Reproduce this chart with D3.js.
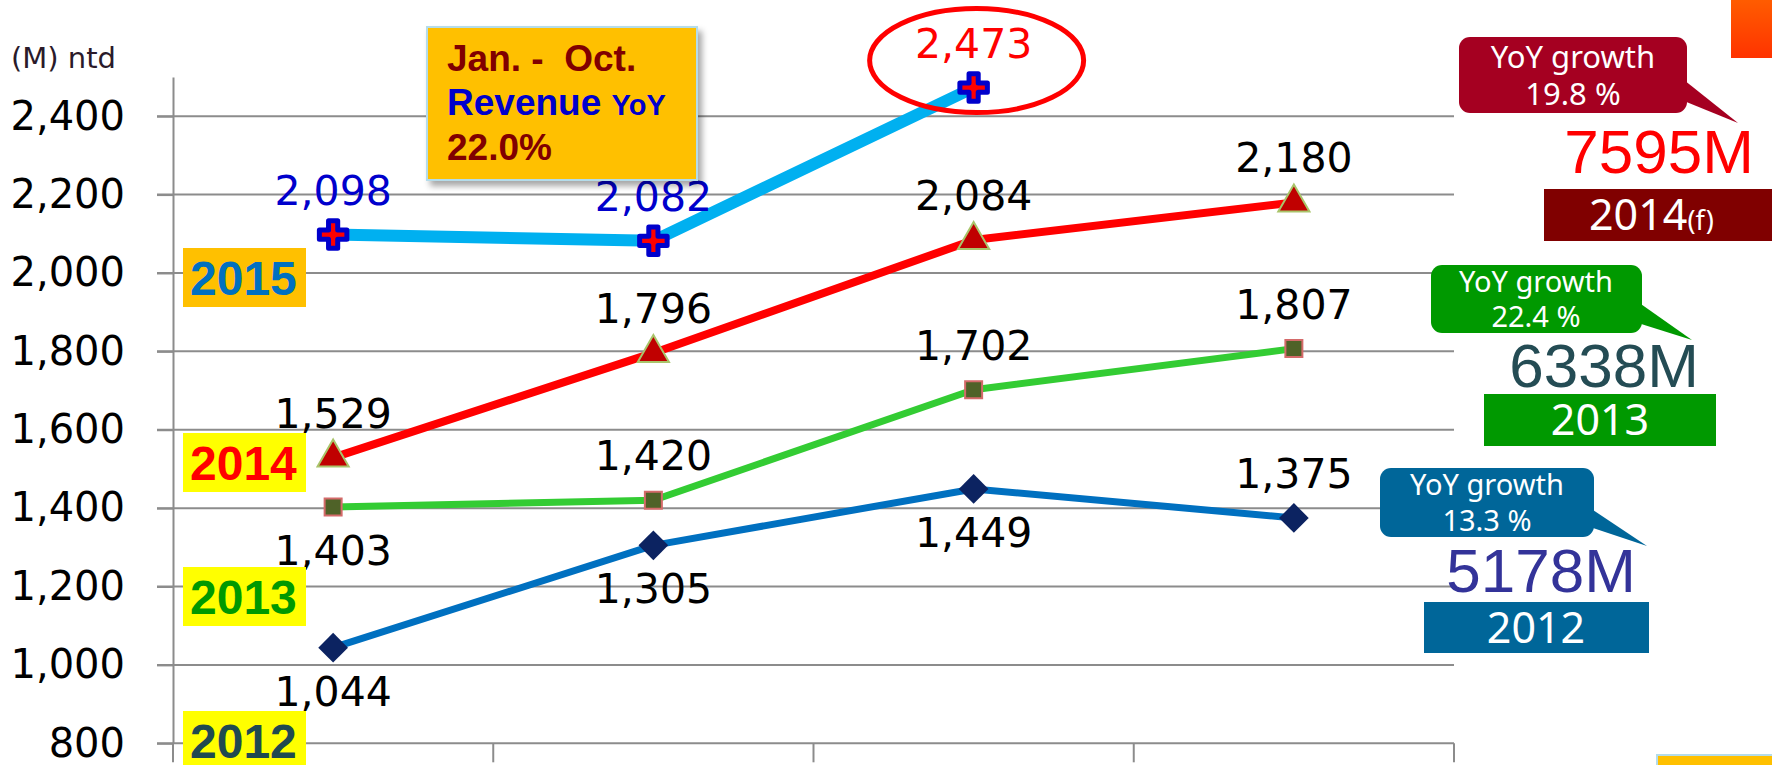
<!DOCTYPE html>
<html>
<head>
<meta charset="utf-8">
<script src="https://cdn.jsdelivr.net/npm/d3@7"></script>
<style>
  body { margin: 0; background: #fff; }
  svg { display: block; }
</style>
</head>
<body>
<script>
const width = 1772;
const height = 765;

// quarters (axis labels are cut off in the original picture)
const categories = ["Q1", "Q2", "Q3", "Q4"];
const rev2012 = [1044, 1305, 1449, 1375];
const rev2013 = [1403, 1420, 1702, 1807];
const rev2014 = [1529, 1796, 2084, 2180];
const rev2015 = [2098, 2082, 2473];
const pos2012 = ["below", "below", "below", "above"];
const pos2013 = ["below", "above", "above", "above"];
const pos2014 = ["above", "above", "above", "above"];
const pos2015 = ["above", "above", "above"];
const yTicks = [800, 1000, 1200, 1400, 1600, 1800, 2000, 2200, 2400];

const totalYears = ["2014", "2013", "2012"];
const totals = [7595, 6338, 5178];
const yoyGrowth = [19.8, 22.4, 13.3];
const janOctYoY = 22.0;

const svg = d3.select('body').append('svg')
    .attr("width", width)
    .attr("height", height);

const defs = svg.append("defs");
defs.append("filter").attr("id", "shadow")
    .attr("x", "-10%").attr("y", "-10%").attr("width", "130%").attr("height", "130%")
    .append("feDropShadow")
    .attr("dx", 4).attr("dy", 5).attr("stdDeviation", 3)
    .attr("flood-color", "#000").attr("flood-opacity", 0.35);
const grad = defs.append("linearGradient").attr("id", "orangeGrad")
    .attr("x1", 0).attr("y1", 0).attr("x2", 0).attr("y2", 1);
grad.append("stop").attr("offset", "0%").attr("stop-color", "#ff5c00");
grad.append("stop").attr("offset", "100%").attr("stop-color", "#ff3300");

const x = d3.scaleBand()
    .domain(categories)
    .range([173, 1454]);

const y = d3.scaleLinear()
    .domain([800, 2500])
    .range([743.3, 77]);

const cx = (d, i) => x(categories[i]) + x.bandwidth() / 2;

// gridlines
svg.append("g")
    .selectAll("line")
    .data(yTicks)
    .enter()
    .append("line")
    .attr("x1", 157)
    .attr("x2", 1454)
    .attr("y1", d => y(d))
    .attr("y2", d => y(d))
    .style("stroke", "#8c8c8c")
    .style("stroke-width", 2);

// x axis category boundary ticks
const bounds = categories.map(c => x(c)).concat([x.range()[1]]);
svg.append("g")
    .selectAll("line")
    .data(bounds)
    .enter()
    .append("line")
    .attr("x1", d => d)
    .attr("x2", d => d)
    .attr("y1", y(800))
    .attr("y2", y(800) + 19)
    .style("stroke", "#8c8c8c")
    .style("stroke-width", 2);

const yAxis = svg.append("g")
    .attr("transform", "translate(173,0)")
    .call(d3.axisLeft(y)
        .tickValues(yTicks)
        .tickSize(16)
        .tickSizeOuter(0)
        .tickPadding(32)
        .tickFormat(d3.format(",")));
yAxis.select(".domain").style("stroke", "#8c8c8c").style("stroke-width", 2);
yAxis.selectAll(".tick line").style("stroke", "#8c8c8c").style("stroke-width", 2);
yAxis.selectAll(".tick text")
    .style("font-family", "DejaVu Sans")
    .style("font-size", "40px")
    .style("fill", "#000");

svg.append("text")
    .attr("x", 11)
    .attr("y", 68)
    .style("font-family", "DejaVu Sans")
    .style("font-size", "29px")
    .style("fill", "#2a1a2a")
    .text("(M) ntd");

// series
const line = d3.line().x(cx).y(d => y(d));

const series = [
    {values: rev2012, pos: pos2012, color: "#0070c0", width: 7, labelColor: ["#000"]},
    {values: rev2013, pos: pos2013, color: "#33cc33", width: 7, labelColor: ["#000"]},
    {values: rev2014, pos: pos2014, color: "#ff0000", width: 8, labelColor: ["#000"]},
    {values: rev2015, pos: pos2015, color: "#00b0f0", width: 12, labelColor: ["#0000cc", "#0000cc", "#ff0000"]}
];

series.forEach(s => {
    svg.append("path")
        .attr("d", line(s.values))
        .style("fill", "none")
        .style("stroke", s.color)
        .style("stroke-width", s.width)
        .style("stroke-linejoin", "round");
});

// markers
const g2012 = svg.append("g");
g2012.selectAll("path")
    .data(rev2012)
    .enter()
    .append("path")
    .attr("d", d3.symbol().type(d3.symbolSquare).size(441))
    .attr("transform", (d, i) => `translate(${cx(d, i)},${y(d)}) rotate(45)`)
    .style("fill", "#0c2361");

const g2013 = svg.append("g");
g2013.selectAll("path")
    .data(rev2013)
    .enter()
    .append("path")
    .attr("d", d3.symbol().type(d3.symbolSquare).size(289))
    .attr("transform", (d, i) => `translate(${cx(d, i)},${y(d)})`)
    .style("fill", "#4f6228")
    .style("stroke", "#d46a6a")
    .style("stroke-width", 2);

const g2014 = svg.append("g");
g2014.selectAll("path")
    .data(rev2014)
    .enter()
    .append("path")
    .attr("d", d3.symbol().type(d3.symbolTriangle).size(420))
    .attr("transform", (d, i) => `translate(${cx(d, i)},${y(d)})`)
    .style("fill", "#c00000")
    .style("stroke", "#a9c46a")
    .style("stroke-width", 2);

const g2015 = svg.append("g");
g2015.selectAll("path")
    .data(rev2015)
    .enter()
    .append("path")
    .attr("d", d3.symbol().type(d3.symbolCross).size(420))
    .attr("transform", (d, i) => `translate(${cx(d, i)},${y(d)})`)
    .style("fill", "#ff0000")
    .style("stroke", "#0000cc")
    .style("stroke-width", 5)
    .style("stroke-linejoin", "round");

// data labels
series.forEach(s => {
    svg.append("g")
        .selectAll("text")
        .data(s.values)
        .enter()
        .append("text")
        .attr("x", cx)
        .attr("y", (d, i) => s.pos[i] === "above" ? y(d) - 30 : y(d) + 58)
        .attr("text-anchor", "middle")
        .style("font-family", "DejaVu Sans")
        .style("font-size", "41px")
        .style("fill", (d, i) => s.labelColor[i] || s.labelColor[0])
        .text(d => d3.format(",")(d));
});

// red ellipse round the last 2015 point
const last = rev2015.length - 1;
svg.append("ellipse")
    .attr("cx", cx(rev2015[last], last) + 3)
    .attr("cy", y(rev2015[last]) - 27)
    .attr("rx", 107)
    .attr("ry", 52)
    .style("fill", "none")
    .style("stroke", "#ff0000")
    .style("stroke-width", 5);

// Jan. - Oct. box
const box = svg.append("g");
box.append("rect")
    .attr("x", 427).attr("y", 27)
    .attr("width", 270).attr("height", 153)
    .style("fill", "#ffc000")
    .style("stroke", "#b4dcea")
    .style("stroke-width", 2)
    .attr("filter", "url(#shadow)");
box.append("text")
    .attr("x", 447).attr("y", 71)
    .attr("xml:space", "preserve")
    .style("font-family", "Liberation Sans")
    .style("font-weight", "bold")
    .style("font-size", "37px")
    .style("fill", "#800000")
    .text("Jan. -  Oct.");
const rev = box.append("text")
    .attr("x", 447).attr("y", 115)
    .style("font-family", "Liberation Sans")
    .style("font-weight", "bold")
    .style("fill", "#0000cc");
rev.append("tspan").style("font-size", "37px").text("Revenue ");
rev.append("tspan").style("font-size", "29px").text("YoY");
box.append("text")
    .attr("x", 447).attr("y", 160)
    .style("font-family", "Liberation Sans")
    .style("font-weight", "bold")
    .style("font-size", "37px")
    .style("fill", "#800000")
    .text(janOctYoY.toFixed(1) + "%");

// year tags on the left
const tags = [
    {text: "2015", bg: "#ffc000", color: "#0070c0", y0: 248, h: 59},
    {text: "2014", bg: "#ffff00", color: "#ff0000", y0: 433, h: 59},
    {text: "2013", bg: "#ffff00", color: "#009900", y0: 567, h: 59},
    {text: "2012", bg: "#ffff00", color: "#1f4a50", y0: 711, h: 60}
];
tags.forEach(t => {
    svg.append("rect")
        .attr("x", 183).attr("y", t.y0)
        .attr("width", 123).attr("height", t.h)
        .style("fill", t.bg);
    svg.append("text")
        .attr("x", 190).attr("y", t.y0 + 47)
        .style("font-family", "Liberation Sans")
        .style("font-weight", "bold")
        .style("font-size", "48px")
        .style("fill", t.color)
        .text(t.text);
});

// right side summary callouts
const callouts = [
    {bx: 1459, by: 37, bw: 228, bh: 76, tail: [[1684, 80], [1738, 123], [1684, 101]], fill: "#a50021", fs: 31,
     l1: 68, l2: 105, tx: 1573, tot: 1659, totY: 173, totColor: "#ff0000",
     yx: 1544, yy: 189, yw: 228, yh: 52, yFill: "#800000", yText: 1589, anchor: "start", suffix: "(f)"},
    {bx: 1431, by: 265, bw: 211, bh: 68, tail: [[1638, 302], [1692, 340], [1638, 323]], fill: "#009900", fs: 29,
     l1: 292, l2: 327, tx: 1536, tot: 1604, totY: 387, totColor: "#244c54",
     yx: 1484, yy: 394, yw: 232, yh: 52, yFill: "#009900", yText: 1600, anchor: "middle", suffix: ""},
    {bx: 1380, by: 468, bw: 214, bh: 69, tail: [[1590, 508], [1647, 546], [1590, 527]], fill: "#006699", fs: 29,
     l1: 495, l2: 531, tx: 1487, tot: 1541, totY: 592, totColor: "#333399",
     yx: 1424, yy: 602, yw: 225, yh: 51, yFill: "#006699", yText: 1536, anchor: "middle", suffix: ""}
];

callouts.forEach((c, i) => {
    const g = svg.append("g");
    g.append("polygon")
        .attr("points", c.tail.map(p => p.join(",")).join(" "))
        .style("fill", c.fill);
    g.append("rect")
        .attr("x", c.bx).attr("y", c.by)
        .attr("width", c.bw).attr("height", c.bh)
        .attr("rx", 11)
        .style("fill", c.fill);
    g.append("text")
        .attr("x", c.tx).attr("y", c.l1)
        .attr("text-anchor", "middle")
        .style("font-family", "Noto Sans")
        .style("font-size", c.fs + "px")
        .style("fill", "#fff")
        .text("YoY growth");
    g.append("text")
        .attr("x", c.tx).attr("y", c.l2)
        .attr("text-anchor", "middle")
        .style("font-family", "Noto Sans")
        .style("font-size", c.fs + "px")
        .style("fill", "#fff")
        .text(yoyGrowth[i].toFixed(1) + " %");
    g.append("text")
        .attr("x", c.tot).attr("y", c.totY)
        .attr("text-anchor", "middle")
        .style("font-family", "Liberation Sans")
        .style("font-size", "62px")
        .style("fill", c.totColor)
        .text(totals[i] + "M");
    g.append("rect")
        .attr("x", c.yx).attr("y", c.yy)
        .attr("width", c.yw).attr("height", c.yh)
        .style("fill", c.yFill);
    const yt = g.append("text")
        .attr("x", c.yText).attr("y", c.yy + 41)
        .attr("text-anchor", c.anchor)
        .style("font-family", "Noto Sans")
        .style("fill", "#fff");
    yt.append("tspan").style("font-size", "43px").text(totalYears[i]);
    if (c.suffix) yt.append("tspan").style("font-size", "27px").text(c.suffix);
});

// decorative slide corners
svg.append("rect")
    .attr("x", 1731).attr("y", 0)
    .attr("width", 41).attr("height", 58)
    .style("fill", "url(#orangeGrad)");
svg.append("rect")
    .attr("x", 1657).attr("y", 755)
    .attr("width", 120).attr("height", 20)
    .style("fill", "#ffc000")
    .style("stroke", "#b4dcea")
    .style("stroke-width", 2);
</script>
</body>
</html>
